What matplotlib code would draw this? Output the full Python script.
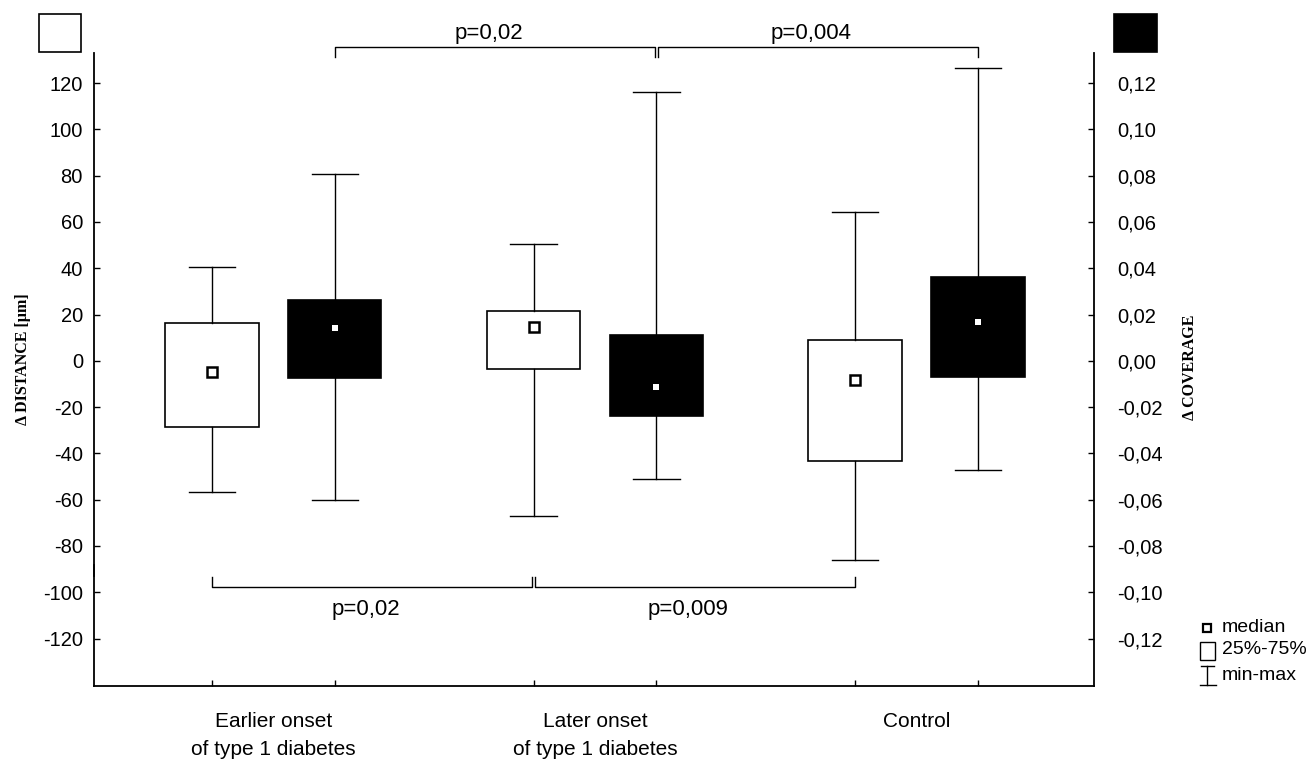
import matplotlib
matplotlib.use('Agg')
import matplotlib.pyplot as plt
from matplotlib.lines import Line2D
from matplotlib.patches import Rectangle
from matplotlib.ticker import FuncFormatter
import matplotlib.transforms as mtransforms

plt.rcParams['font.family'] = ['Liberation Sans', 'DejaVu Sans']
plt.rcParams['axes.unicode_minus'] = False

groups = ['Earlier onset\nof type 1 diabetes', 'Later onset\nof type 1 diabetes', 'Control']

# delta distance [um] (white boxes, left axis)
dist_min = [-56.6, -67.0, -86.1]
dist_q1 = [-28.5, -3.5, -43.2]
dist_med = [-4.8, 14.7, -8.2]
dist_q3 = [16.4, 21.6, 9.1]
dist_max = [40.6, 50.6, 64.4]

# delta coverage (black boxes, right axis)
cov_min = [-0.0601, -0.0510, -0.0471]
cov_q1 = [-0.0074, -0.0238, -0.0069]
cov_med = [0.0143, -0.0112, 0.0169]
cov_q3 = [0.0264, 0.0112, 0.0363]
cov_max = [0.0809, 0.1163, 0.1267]

# significance brackets: (from box, to box, label)
top_pairs = [(1, 3, 'p=0,02'), (3, 5, 'p=0,004')]
bottom_pairs = [(0, 2, 'p=0,02'), (2, 4, 'p=0,009')]

W, H = 1313, 759
fig = plt.figure(figsize=(W / 100, H / 100), dpi=100)
ax = fig.add_axes([94 / W, 1 - 686 / H, 1000 / W, (686 - 53) / H])
ax2 = ax.twinx()

off = 0.191
xw = [i - off for i in range(3)]
xb = [i + off for i in range(3)]
box_x = [p for pair in zip(xw, xb) for p in pair]

ylo, yhi = -140.5, 133.0
ax.set_ylim(ylo, yhi)
ax2.set_ylim(ylo / 1000, yhi / 1000)
ax.set_xlim(-0.558, 2.552)

def stats(lo, q1, med, q3, hi):
    return [dict(whislo=a, q1=b, med=c, q3=d, whishi=e, mean=c)
            for a, b, c, d, e in zip(lo, q1, med, q3, hi)]

bw = 0.29
ax.bxp(stats(dist_min, dist_q1, dist_med, dist_q3, dist_max), positions=xw, widths=bw,
       patch_artist=True, showfliers=False, showmeans=True,
       boxprops=dict(facecolor='white', edgecolor='black', linewidth=1.2),
       whiskerprops=dict(color='black', linewidth=1.0),
       capprops=dict(color='black', linewidth=1.0), capwidths=bw / 2,
       medianprops=dict(visible=False),
       meanprops=dict(marker='s', markersize=7, markerfacecolor='white',
                      markeredgecolor='black', markeredgewidth=1.8))
ax2.bxp(stats(cov_min, cov_q1, cov_med, cov_q3, cov_max), positions=xb, widths=bw,
        patch_artist=True, showfliers=False, showmeans=True,
        boxprops=dict(facecolor='black', edgecolor='black', linewidth=1.2),
        whiskerprops=dict(color='black', linewidth=1.0),
        capprops=dict(color='black', linewidth=1.0), capwidths=bw / 2,
        medianprops=dict(visible=False),
        meanprops=dict(marker='s', markersize=5, markerfacecolor='white',
                       markeredgecolor='white', markeredgewidth=0))

# axes styling
for a in (ax, ax2):
    a.spines['top'].set_visible(False)
    a.spines['left'].set_visible(False)
    a.spines['right'].set_visible(a is ax2)
    a.spines['bottom'].set_visible(a is ax)
ax2.spines['right'].set_linewidth(1.3)
ax.spines['bottom'].set_linewidth(1.3)

# broken left spine
bt = mtransforms.blended_transform_factory(ax.transAxes, ax.transData)
ax.add_line(Line2D([0, 0], [ylo, -88.2], transform=bt, color='black', lw=1.3, clip_on=False))
ax.add_line(Line2D([0, 0], [-93.0, yhi], transform=bt, color='black', lw=1.3, clip_on=False))

yt = list(range(-120, 121, 20))
ax.set_yticks(yt)
ax.tick_params(axis='y', direction='in', length=4, width=1, pad=8, labelsize=14.5)
ax2.set_yticks([v / 1000 for v in yt])
ax2.yaxis.set_major_formatter(FuncFormatter(lambda v, p: ('%.2f' % v).replace('.', ',').replace('-0,00', '0,00')))
ax2.tick_params(axis='y', direction='in', length=4, width=1, pad=17, labelsize=14.5)

ax.set_xticks(range(3))
ax.set_xticklabels(groups, fontsize=15, linespacing=1.55)
ax.set_xticks(box_x, minor=True)
ax.tick_params(axis='x', which='major', length=0, pad=19)
ax.tick_params(axis='x', which='minor', direction='in', length=4, width=1)

ax.set_ylabel('Δ DISTANCE [µm]', family='Liberation Serif', fontweight='bold', fontsize=11.5)
ax2.set_ylabel('Δ COVERAGE', family='Liberation Serif', fontweight='bold', fontsize=11.5)
ax.yaxis.set_label_coords(-0.063, 0.517)
ax2.yaxis.set_label_coords(1.088, 0.504)

# significance brackets
def bracket(y, tick, pairs, text_y):
    for i, j, lab in pairs:
        x0, x1 = box_x[i], box_x[j]
        d = 0.005
        x0b = x0 + (d if i in (2, 3) else 0)
        x1b = x1 - (d if j in (2, 3) else 0)
        ax.plot([x0b, x0b, x1b, x1b], [y + tick, y, y, y + tick], color='black',
                lw=1.0, clip_on=False)
        ax.text((x0 + x1) / 2 - 0.02, text_y, lab, ha='center', va='center', fontsize=16)

bracket(135.4, -4.0, top_pairs, 141.5)
bracket(-97.7, 4.3, bottom_pairs, -107.5)

# top group markers
ft = fig.transFigure
fig.add_artist(Rectangle((39 / W, 1 - 52 / H), 42 / W, 38 / H, transform=ft,
                         facecolor='white', edgecolor='black', lw=1.2))
fig.add_artist(Rectangle((1114 / W, 1 - 52 / H), 43 / W, 38 / H, transform=ft,
                         facecolor='black', edgecolor='black', lw=1.2))

# legend bottom right
lx = 1207
fig.add_artist(Line2D([lx / W], [1 - 628 / H], marker='s', markersize=6,
                      markerfacecolor='white', markeredgecolor='black',
                      markeredgewidth=1.6, transform=ft))
fig.add_artist(Rectangle((1200 / W, 1 - 660 / H), 15 / W, 18 / H, transform=ft,
                         facecolor='white', edgecolor='black', lw=1.0))
fig.add_artist(Line2D([lx / W, lx / W], [1 - 666 / H, 1 - 685 / H], color='black', lw=1.0, transform=ft))
fig.add_artist(Line2D([1201 / W, 1214 / W], [1 - 666 / H, 1 - 666 / H], color='black', lw=1.0, transform=ft))
fig.add_artist(Line2D([1200 / W, 1216 / W], [1 - 685 / H, 1 - 685 / H], color='black', lw=1.0, transform=ft))
for yy, lab in [(628, 'median'), (650, '25%-75%'), (676, 'min-max')]:
    fig.text(1222 / W, 1 - yy / H, lab, ha='left', va='center', fontsize=14)

fig.savefig('out.png', dpi=100)
